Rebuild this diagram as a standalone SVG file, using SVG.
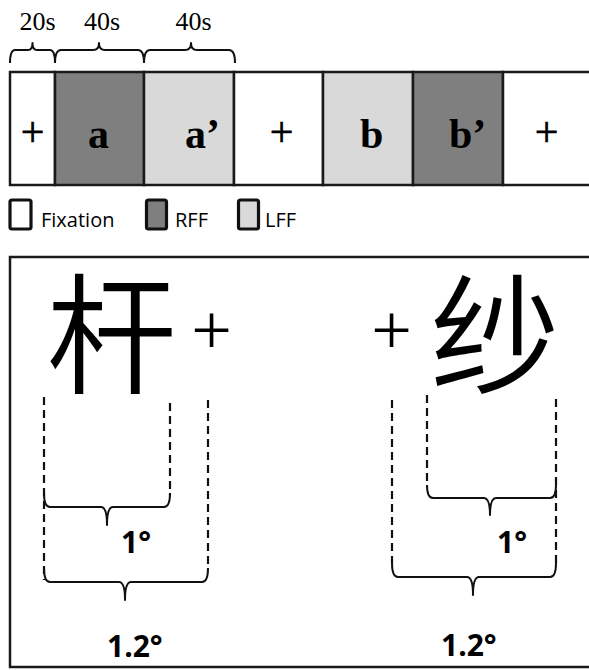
<svg xmlns="http://www.w3.org/2000/svg" width="589" height="670" viewBox="0 0 589 670">
  <defs>
    <style>
      .cell { stroke: #1a1a1a; stroke-width: 2.5; }
      .fix { fill: #ffffff; }
      .rff { fill: #7f7f7f; }
      .lff { fill: #d9d9d9; }
      .cond { font-family: "Liberation Serif", "Times New Roman", serif; font-size: 42px; font-weight: bold; fill: #000; }
      .plus { font-family: "Liberation Serif", "Times New Roman", serif; font-size: 42px; fill: #000; stroke: #000; stroke-width: 0.6; text-anchor: middle; }
      .bigplus { font-family: "Liberation Serif", "Times New Roman", serif; font-size: 72px; fill: #000; text-anchor: middle; }
      .dur { font-family: "Liberation Serif", "Times New Roman", serif; font-size: 26px; fill: #000; text-anchor: middle; }
      .legend { font-family: "Open Sans", "Liberation Sans", sans-serif; font-size: 20px; fill: #000; }
      .swatch { stroke: #111; stroke-width: 3.2; }
      .brace { fill: none; stroke: #111; stroke-width: 2; stroke-linejoin: round; }
      .guide { fill: none; stroke: #111; stroke-width: 2.2; stroke-dasharray: 8 5; }
      .hanzi { font-family: "Noto Sans CJK SC", "Noto Sans CJK TC", sans-serif; font-size: 130px; font-weight: 350; fill: #000; text-anchor: middle; }
      .deg { font-family: "Open Sans", "Liberation Sans", sans-serif; font-size: 30px; font-weight: bold; fill: #000; }
    </style>
  </defs>

  <rect width="589" height="670" fill="#ffffff"/>

  <!-- block design timeline -->
  <g id="timeline">
    <g id="block-fix1"><rect class="cell fix" x="10" y="72" width="45" height="113"/><text class="plus" x="32.5" y="145.5">+</text></g>
    <g id="block-a"><rect class="cell rff" x="55" y="72" width="89" height="113"/><text class="cond" x="88" y="148">a</text></g>
    <g id="block-a2"><rect class="cell lff" x="144" y="72" width="90" height="113"/><text class="cond" x="185" y="148">a’</text></g>
    <g id="block-fix2"><rect class="cell fix" x="234" y="72" width="89" height="113"/><text class="plus" x="281.5" y="145.5">+</text></g>
    <g id="block-b"><rect class="cell lff" x="323" y="72" width="90" height="113"/><text class="cond" x="360" y="148">b</text></g>
    <g id="block-b2"><rect class="cell rff" x="413" y="72" width="90" height="113"/><text class="cond" x="449" y="148">b’</text></g>
    <g id="block-fix3"><rect class="cell fix" x="503" y="72" width="100" height="113"/><text class="plus" x="546.5" y="145.5">+</text></g>
  </g>

  <!-- duration labels -->
  <g id="durations">
    <text class="dur" x="37.5" y="29.5">20s</text>
    <text class="dur" x="102" y="29.5">40s</text>
    <text class="dur" x="193.5" y="29.5">40s</text>
  </g>

  <!-- legend -->
  <g id="legend">
    <g id="legend-fixation"><rect class="swatch fix" x="10" y="200" width="21" height="29" rx="2"/><text class="legend" x="41" y="227">Fixation</text></g>
    <g id="legend-rff"><rect class="swatch rff" x="146.5" y="200" width="20" height="29" rx="2"/><text class="legend" x="175" y="227">RFF</text></g>
    <g id="legend-lff"><rect class="swatch lff" x="238.5" y="200" width="20" height="29" rx="2"/><text class="legend" x="265" y="227">LFF</text></g>
  </g>

  <!-- stimulus panel -->
  <g id="stimulus-panel">
    <rect x="10" y="257" width="600" height="410" fill="none" stroke="#1a1a1a" stroke-width="2.5"/>
    <g id="stim-left">
      <text class="hanzi" x="111.5" y="383">杆</text>
      <text class="bigplus" x="211.5" y="354">+</text>
      <text class="deg" x="121" y="553">1°</text>
      <text class="deg" x="107" y="657">1.2°</text>
    </g>
    <g id="stim-right">
      <text class="hanzi" x="495" y="383">纱</text>
      <text class="bigplus" x="391.5" y="354">+</text>
      <text class="deg" x="497" y="553">1°</text>
      <text class="deg" x="441" y="656">1.2°</text>
    </g>
  </g>

  <!-- braces and extent guides -->
  <g id="connectors">
    <path class="brace" d="M10,63 Q10,50 15,50 L28,50 Q32.5,50 32.5,43 Q32.5,50 37,50 L50,50 Q55,50 55,63"/>
    <path class="brace" d="M55,63 Q55,50 61,50 L93,50 Q99,50 99,43 Q99,50 105,50 L138,50 Q144,50 144,63"/>
    <path class="brace" d="M144,63 Q144,50 150,50 L185,50 Q191,50 191,43 Q191,50 197,50 L229,50 Q235,50 235,63"/>

    <line class="guide" x1="44" y1="397" x2="44" y2="580"/>
    <line class="guide" x1="170" y1="403" x2="170" y2="495"/>
    <line class="guide" x1="208" y1="400" x2="208" y2="568"/>
    <path class="brace" d="M44,493 Q44,507 50,507 L101,507 Q107,507 107,525 Q107,507 113,507 L164,507 Q170,507 170,493"/>
    <path class="brace" d="M44,568 Q44,582 50,582 L119,582 Q125,582 125,600 Q125,582 131,582 L202,582 Q208,582 208,568"/>

    <line class="guide" x1="392" y1="400" x2="392" y2="563"/>
    <line class="guide" x1="427" y1="395" x2="427" y2="485"/>
    <line class="guide" x1="556" y1="399" x2="556" y2="565"/>
    <path class="brace" d="M427,485 Q427,498 433,498 L484,498 Q490,498 490,515 Q490,498 496,498 L550,498 Q556,498 556,485"/>
    <path class="brace" d="M392,563 Q392,577 398,577 L467,577 Q473,577 473,595 Q473,577 479,577 L550,577 Q556,577 556,563"/>
  </g>
</svg>
